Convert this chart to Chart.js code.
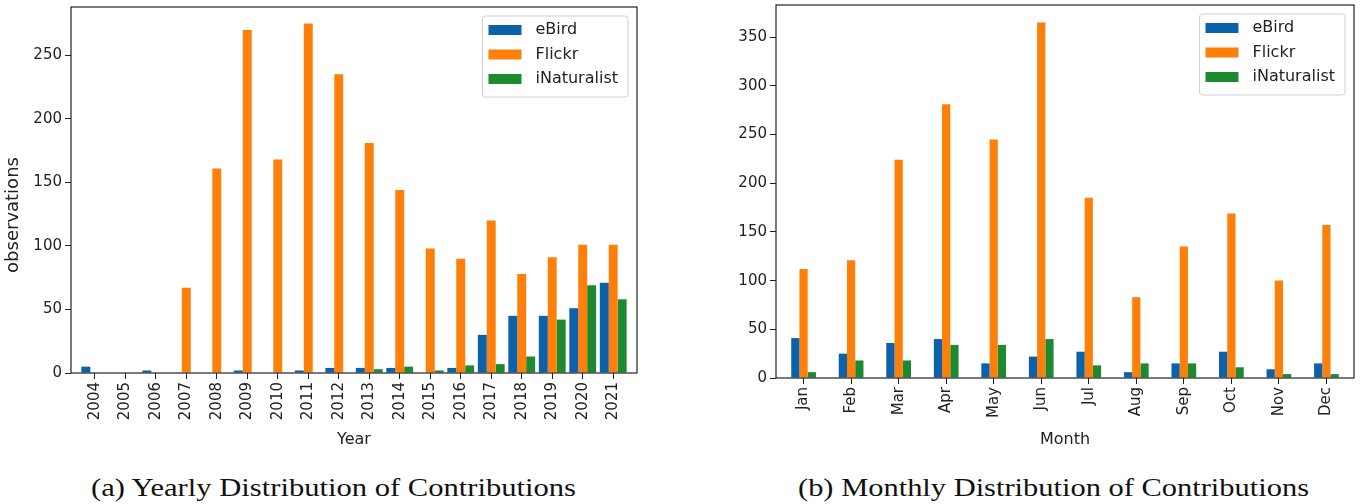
<!DOCTYPE html>
<html>
<head>
<meta charset="utf-8">
<title>Distribution of Contributions</title>
<script src="https://cdn.jsdelivr.net/npm/chart.js@4.4.1/dist/chart.umd.min.js"></script>
<style>
  body { margin: 0; background: #fff; width: 1360px; height: 504px; position: relative; overflow: hidden; }
  canvas { position: absolute; top: 0; }
  #yearly { left: 0; }
  #monthly { left: 680px; }
  .caption {
    position: absolute; top: 475px; line-height: 25px;
    font-family: 'Liberation Serif', serif; font-size: 25px; color: #111;
    white-space: nowrap; transform-origin: left top;
  }
  #capA { left: 91px; }
  #capB { left: 798px; }
</style>
</head>
<body>
<canvas id="yearly" width="680" height="460"></canvas>
<canvas id="monthly" width="680" height="460"></canvas>
<div class="caption" id="capA">(a) Yearly Distribution of Contributions</div>
<div class="caption" id="capB">(b) Monthly Distribution of Contributions</div>
<script>
// values
const years = ['2004', '2005', '2006', '2007', '2008', '2009', '2010', '2011', '2012',
               '2013', '2014', '2015', '2016', '2017', '2018', '2019', '2020', '2021'];
const yearEbird   = [5, 0, 2, 0, 0, 2, 0, 2, 4, 4, 4, 0, 4, 30, 45, 45, 51, 71];
const yearFlickr  = [0, 0, 0, 67, 161, 270, 168, 275, 235, 181, 144, 98, 90, 120, 78, 91, 101, 101];
const yearInat    = [0, 0, 0, 0, 0, 0, 0, 0, 0, 3, 5, 2, 6, 7, 13, 42, 69, 58];

const months = ['Jan', 'Feb', 'Mar', 'Apr', 'May', 'Jun', 'Jul', 'Aug', 'Sep', 'Oct', 'Nov', 'Dec'];
const monthEbird  = [41, 25, 36, 40, 15, 22, 27, 6, 15, 27, 9, 15];
const monthFlickr = [112, 121, 224, 281, 245, 365, 185, 83, 135, 169, 100, 157];
const monthInat   = [6, 18, 18, 34, 34, 40, 13, 15, 15, 11, 4, 4];

const sources = ['eBird', 'Flickr', 'iNaturalist'];
const colors = ['#0b62a8', '#fe7f0a', '#1c8a2e'];

Chart.defaults.font.family = "'DejaVu Sans', sans-serif";
Chart.defaults.font.size = 15;
Chart.defaults.color = '#222';

// black box round the plot, like matplotlib spines
const frame = {
    id: 'frame',
    afterDatasetsDraw(chart) {
        const a = chart.chartArea;
        const ctx = chart.ctx;
        ctx.save();
        ctx.strokeStyle = '#222';
        ctx.lineWidth = 1.2;
        ctx.strokeRect(a.left, a.top, a.right - a.left, a.bottom - a.top);
        ctx.restore();
    }
};

// legend drawn inside the plot, top right
const boxLegend = {
    id: 'boxLegend',
    afterDraw(chart) {
        const a = chart.chartArea;
        const ctx = chart.ctx;
        ctx.save();
        ctx.font = "16px 'DejaVu Sans'";
        let textW = 0;
        chart.data.datasets.forEach(ds => { textW = Math.max(textW, ctx.measureText(ds.label).width); });
        const w = 53 + textW + 10;
        const h = 81;
        const x = a.right - 9 - w;
        const y = a.top + 9;
        ctx.beginPath();
        ctx.roundRect(x, y, w, h, 3);
        ctx.fillStyle = 'rgba(255,255,255,0.8)';
        ctx.fill();
        ctx.strokeStyle = '#d0d0d0';
        ctx.lineWidth = 1;
        ctx.stroke();
        ctx.textBaseline = 'middle';
        chart.data.datasets.forEach((ds, i) => {
            const cy = y + 14 + i * 24.5;
            ctx.fillStyle = ds.backgroundColor;
            ctx.fillRect(x + 6, cy - 5, 33, 10);
            ctx.fillStyle = '#222';
            ctx.fillText(ds.label, x + 53, cy);
        });
        ctx.restore();
    }
};

// the y label sits a bit below the middle of the axis in the picture
const yLabel = {
    id: 'yLabel',
    afterDraw(chart, args, opts) {
        if (!opts.text) return;
        const ctx = chart.ctx;
        ctx.save();
        ctx.translate(opts.x, opts.y);
        ctx.rotate(-Math.PI / 2);
        ctx.font = "18px 'DejaVu Sans'";
        ctx.fillStyle = '#222';
        ctx.textAlign = 'center';
        ctx.textBaseline = 'middle';
        ctx.fillText(opts.text, 0, 0);
        ctx.restore();
    }
};

function makeChart(canvasId, labels, series, opt) {
    const datasets = series.map((vals, s) => ({
        label: sources[s],
        backgroundColor: colors[s],
        borderWidth: 0,
        data: vals.map((v, i) => ({ x: i, y: v }))
    }));
    return new Chart(document.getElementById(canvasId), {
        type: 'bar',
        data: { datasets: datasets },
        options: {
            responsive: false,
            animation: false,
            events: [],
            layout: { padding: { left: 0, right: opt.padRight, top: opt.padTop, bottom: 11 } },
            datasets: { bar: { categoryPercentage: opt.groupWidth, barPercentage: 1 } },
            plugins: {
                legend: { display: false },
                tooltip: { enabled: false },
                yLabel: { text: opt.yTitle, x: 13, y: 215 }
            },
            scales: {
                x: {
                    type: 'linear',
                    offset: false,
                    min: -opt.margin,
                    max: labels.length - 1 + opt.margin,
                    border: { display: false },
                    grid: { display: true, offset: false, drawOnChartArea: false, drawTicks: true, tickLength: 6, color: '#222' },
                    ticks: {
                        stepSize: 1,
                        includeBounds: false,
                        autoSkip: false,
                        minRotation: 90,
                        maxRotation: 90,
                        padding: 3,
                        callback: function (value) { return labels[value]; }
                    },
                    title: { display: true, text: opt.xTitle, padding: 0, font: { size: 16 } },
                    afterFit: function (scale) {
                        scale.height = opt.xHeight;
                        scale.paddingLeft = 0; scale.paddingRight = 0;
                    }
                },
                y: {
                    min: 0,
                    max: opt.yMax,
                    border: { display: false },
                    grid: { display: true, drawOnChartArea: false, drawTicks: true, tickLength: 6, color: '#222' },
                    ticks: { stepSize: 50, includeBounds: false, padding: 3 },
                    afterFit: function (scale) {
                        scale.width = opt.yWidth;
                        scale.paddingTop = 0; scale.paddingBottom = 0;
                    }
                }
            }
        },
        plugins: [frame, boxLegend, yLabel]
    });
}

makeChart('yearly', years, [yearEbird, yearFlickr, yearInat], {
    margin: 0.78, groupWidth: 0.88, yMax: 288, yWidth: 71, xHeight: 76,
    padRight: 43, padTop: 7, xTitle: 'Year', yTitle: 'observations'
});

makeChart('monthly', months, [monthEbird, monthFlickr, monthInat], {
    margin: 0.58, groupWidth: 0.52, yMax: 383, yWidth: 96, xHeight: 71,
    padRight: 6, padTop: 5, xTitle: 'Month', yTitle: ''
});

function fitCaption(id, width) {
    var el = document.getElementById(id);
    var w = el.getBoundingClientRect().width;
    el.style.transform = 'scaleX(' + (width / w) + ')';
}
fitCaption('capA', 485);
fitCaption('capB', 511);
</script>
</body>
</html>
